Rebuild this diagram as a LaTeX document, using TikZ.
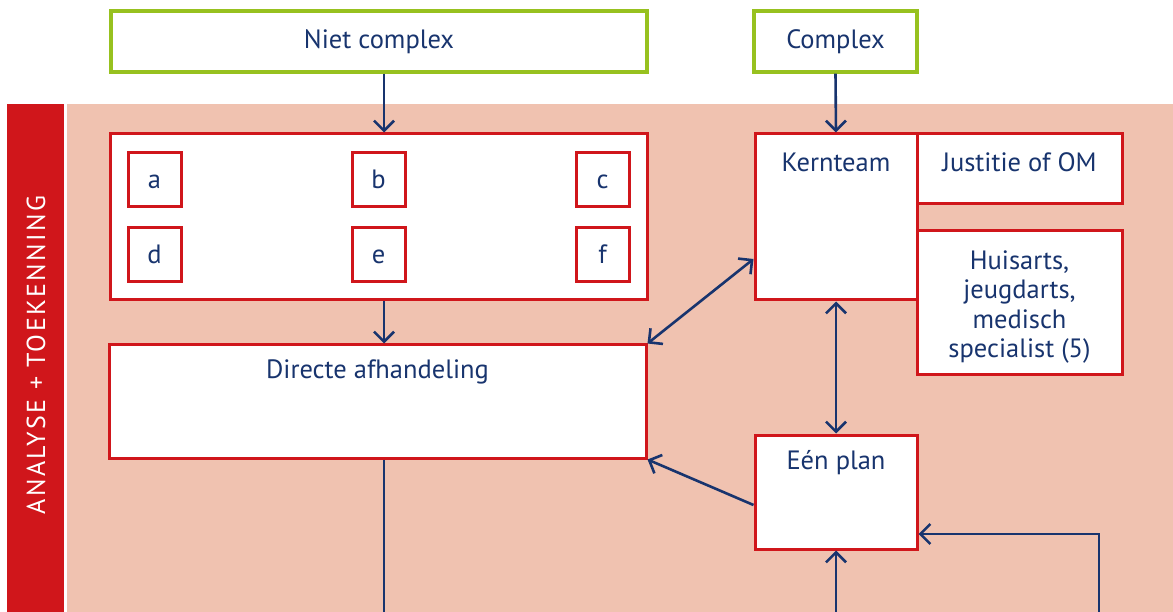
\documentclass[tikz,border=0pt]{standalone}
\usepackage{fontspec}
\setmainfont{PT Sans}
\newfontfamily\bandfont[LetterSpace=9]{PT Sans}
\usepackage{tikz}
\usetikzlibrary{arrows.meta}

\definecolor{navy}{RGB}{24,52,110}
\definecolor{boxred}{RGB}{208,22,27}
\definecolor{salmon}{RGB}{240,194,176}
\definecolor{lime}{RGB}{151,193,31}

\tikzset{
  boxtext/.style={text=navy, font=\fontsize{26.5}{29.5}\selectfont},
  redbox/.style={draw=boxred, line width=3pt, fill=white, inner sep=0pt},
  greenbox/.style={draw=lime, line width=3.2pt, fill=white, inner sep=0pt, boxtext},
  letterbox/.style={redbox, boxtext, minimum width=53pt, minimum height=54pt, text height=18pt, text depth=0pt},
  flow/.style={draw=navy, line width=2.6pt},
}

\begin{document}
\begin{tikzpicture}[x=1pt, y=-1pt, >={Straight Barb[length=10pt,width=20pt]}]
    \useasboundingbox (0,0) rectangle (1173,612);

    % band
    \fill[boxred] (7,104) rectangle (64,612);
    \fill[salmon] (67,104) rectangle (1173,612);
    \node[rotate=90, text=white, font=\bandfont\fontsize{26}{30}\selectfont] (band) at (36,355) {ANALYSE + TOEKENNING};

    % top row
    \node[greenbox, minimum width=536pt, minimum height=61pt] (niet) at (379,41.5) {Niet complex};
    \node[greenbox, minimum width=163pt, minimum height=61pt] (cplx) at (835.5,41.5) {Complex};

    % left column
    \node[redbox, minimum width=537pt, minimum height=166pt] (abc) at (378.5,217) {};
    \foreach \n/\x/\y in {a/154.5/179.5, b/378.5/179.5, c/602.5/179.5, d/154.5/255, e/378.5/255, f/602.5/255}
        \node[letterbox] (\n) at (\x,\y) {\n};
    \node[redbox, minimum width=537pt, minimum height=113pt] (directe) at (377.5,401.5) {};
    \node[boxtext] (directetxt) at (377.5,372) {Directe afhandeling};

    % right column
    \node[redbox, minimum width=162pt, minimum height=166pt] (kern) at (836,217) {};
    \node[boxtext] (kerntxt) at (836,162) {Kernteam};
    \node[redbox, minimum width=205pt, minimum height=70pt] (justitie) at (1019.5,169) {};
    \node[boxtext] (justitietxt) at (1019.5,162) {Justitie of OM};
    \node[redbox, minimum width=205pt, minimum height=143pt] (huis) at (1019.5,302.5) {};
    \node[boxtext, align=center] (huistxt) at (1019.5,307)
        {Huisarts,\\jeugdarts,\\medisch\\specialist (5)};
    \node[redbox, minimum width=162pt, minimum height=114pt] (een) at (836,492) {};
    \node[boxtext] (eentxt) at (836,463) {Eén plan};

    % connectors
    \coordinate (colA) at (384,0);
    \coordinate (dirout) at (384,612);
    \coordinate (eenin) at (836,612);
    \coordinate (loopin) at (1099,612);

    \draw[flow, ->] (niet.south -| colA) -- (abc.north -| colA);
    \draw[flow, ->] (cplx.south) -- (kern.north);
    \draw[flow, ->] (abc.south -| colA) -- (directe.north -| colA);
    \draw[flow, <->] ([yshift=-42pt]kern.west) -- (directe.north east);
    \draw[flow, <->] (kern.south) -- (een.north);
    \draw[flow, ->] ([yshift=-13pt]een.west) -- (directe.south east);
    \draw[flow, ->] (loopin) |- ([yshift=-42pt]een.east);
    \draw[flow, ->] (eenin) -- (een.south);
    \draw[flow] (directe.south -| colA) -- (dirout);
\end{tikzpicture}
\end{document}
